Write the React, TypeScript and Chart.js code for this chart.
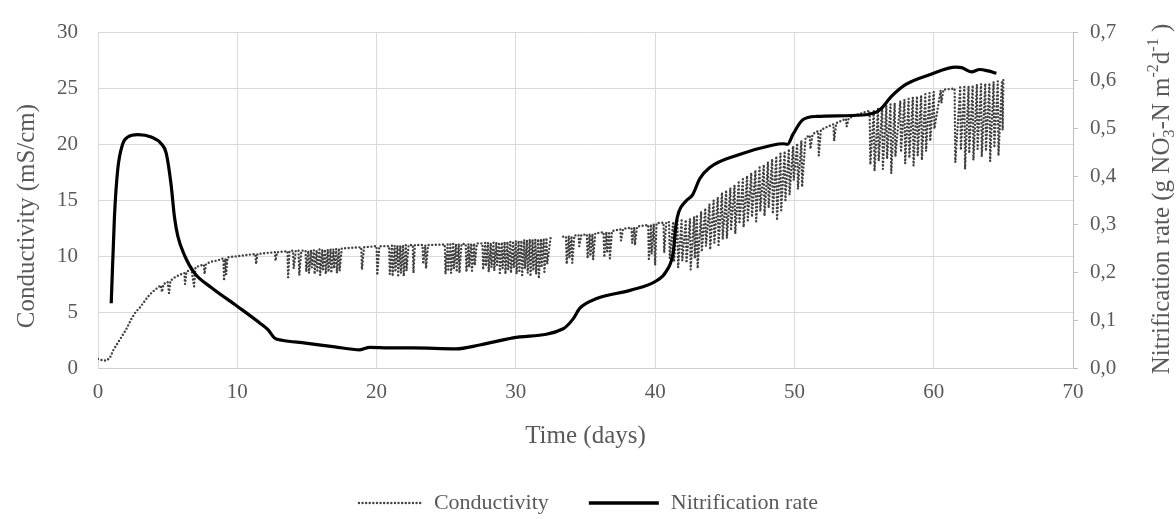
import React, { useEffect, useRef } from 'react';
import { Chart, registerables } from 'chart.js';

Chart.register(...registerables);

const FONT = '"Liberation Serif", "Times New Roman", serif';
const TEXT = '#595959';

// Conductivity (mS/cm) — [day, value]; null marks the gap in logging
const condPhase1: [number, number][] = [
  [0, 0.8], [0.3, 0.7], [0.6, 0.65], [0.85, 0.9], [1.1, 1.6], [1.4, 2.2], [1.7, 2.8], [2.0, 3.4],
  [2.4, 4.4], [2.7, 5.0], [3.0, 5.4], [3.3, 5.9], [3.6, 6.4], [3.9, 6.8], [4.2, 7.1], [4.5, 7.4],
  [4.6, 6.8], [4.7, 7.5], [5.0, 7.7], [5.1, 6.7], [5.2, 7.8], [5.5, 8.1], [5.8, 8.3], [6.2, 8.5],
  [6.25, 7.5], [6.35, 8.6], [6.7, 8.85], [6.9, 7.3], [7.0, 9.0], [7.3, 9.15], [7.6, 9.25], [7.65, 8.4],
  [7.75, 9.3], [8.1, 9.5], [8.5, 9.6], [9.0, 9.8], [9.05, 7.8], [9.15, 9.8], [9.2, 8.4], [9.3, 9.9],
  [10.0, 10.0], [10.6, 10.1], [11.3, 10.2], [11.35, 9.3], [11.45, 10.2], [12.2, 10.3], [12.7, 10.35],
  [12.75, 9.6], [12.85, 10.35], [13.6, 10.45], [13.65, 8.1], [13.75, 10.45],
];
const condPhase2: [number, number][] = [
  [14.0, 10.5], [14.05, 8.9], [14.2, 10.5], [14.4, 10.5], [14.45, 8.3], [14.6, 10.5], [14.9, 10.5],
  [14.95, 8.6], [15.1, 10.5], [15.15, 8.5], [15.3, 10.55], [15.35, 9.0], [15.5, 10.55], [15.55, 8.4],
  [15.7, 10.55], [15.75, 8.7], [15.9, 10.6], [15.95, 8.3], [16.1, 10.6], [16.15, 8.8], [16.3, 10.6],
  [16.35, 8.4], [16.5, 10.6], [16.55, 8.6], [16.7, 10.65], [16.75, 8.5], [16.9, 10.65], [16.95, 8.9],
  [17.1, 10.65], [17.15, 8.5], [17.3, 10.7], [17.35, 8.7], [17.5, 10.7], [18.2, 10.75], [18.9, 10.8],
  [18.95, 8.8], [19.1, 10.8], [20.0, 10.9], [20.05, 8.3], [20.2, 10.9],
];
const condPhase3: [number, number][] = [
  [20.9, 10.9], [20.95, 8.4], [21.1, 10.95], [21.15, 8.2], [21.3, 10.95], [21.35, 8.6], [21.5, 10.95],
  [21.55, 8.3], [21.7, 10.95], [21.75, 8.5], [21.9, 11.0], [21.95, 8.2], [22.1, 11.0], [22.15, 8.7],
  [22.3, 11.0], [22.6, 11.0], [22.65, 8.5], [22.75, 11.0], [23.3, 11.0], [23.35, 9.3], [23.5, 11.0],
  [23.55, 8.9], [23.7, 11.0], [24.9, 11.05], [24.95, 8.4], [25.1, 11.05], [25.15, 8.8], [25.3, 11.05],
  [25.35, 8.5], [25.5, 11.1], [25.55, 8.9], [25.7, 11.1], [25.75, 8.6], [25.9, 11.1], [25.95, 8.5],
  [26.1, 11.1], [26.4, 11.1], [26.45, 8.6], [26.6, 11.1], [26.65, 9.0], [26.8, 11.15], [26.85, 8.7],
  [27.0, 11.15], [27.05, 9.2], [27.2, 11.15], [27.6, 11.15], [27.65, 8.8], [27.8, 11.2], [27.85, 9.1],
  [28.0, 11.2], [28.05, 8.6], [28.2, 11.2], [28.25, 9.0], [28.4, 11.2], [28.45, 8.7], [28.6, 11.25],
  [28.65, 9.2], [28.8, 11.25], [28.85, 8.5], [29.0, 11.25], [29.05, 8.9], [29.2, 11.3], [29.25, 8.4],
  [29.4, 11.3], [29.45, 8.8], [29.6, 11.3], [29.65, 8.5], [29.8, 11.35], [29.85, 9.0], [30.0, 11.35],
  [30.05, 8.4], [30.2, 11.4], [30.25, 8.7], [30.4, 11.4], [30.45, 8.3], [30.6, 11.45], [30.65, 8.9],
  [30.8, 11.45], [30.85, 8.5], [31.0, 11.5], [31.05, 8.2], [31.2, 11.5], [31.25, 8.7], [31.4, 11.5],
  [31.45, 8.4], [31.6, 11.55], [31.65, 8.0], [31.8, 11.55], [31.85, 9.0], [32.0, 11.6], [32.05, 8.6],
  [32.2, 11.65], [32.25, 9.3], [32.5, 11.7],
];
const condGap: [number, number | null][] = [[33.0, null]];
const condPhase4: [number, number][] = [
  [33.4, 11.75], [33.6, 11.75], [33.65, 9.3], [33.8, 11.8], [33.85, 9.8], [34.0, 11.8], [34.05, 9.4],
  [34.2, 11.85], [34.5, 11.9], [34.55, 10.9], [34.7, 11.9], [35.1, 11.95], [35.15, 9.8], [35.3, 12.0],
  [35.35, 10.0], [35.5, 12.0], [35.55, 9.7], [35.7, 12.05], [36.3, 12.15], [36.35, 9.9], [36.5, 12.2],
  [36.55, 10.3], [36.7, 12.2], [36.75, 9.8], [36.9, 12.25], [37.5, 12.4], [37.55, 11.4], [37.7, 12.45],
  [38.3, 12.55], [38.35, 11.2], [38.5, 12.6], [38.55, 11.0], [38.7, 12.65], [39.5, 12.8], [39.55, 9.6],
  [39.7, 12.85], [39.75, 10.2], [39.9, 12.9], [40.0, 9.2], [40.1, 12.95], [40.6, 13.0], [40.65, 10.3],
  [40.8, 13.05],
];
const condPhase5: [number, number][] = [
  [41.0, 13.05], [41.05, 9.8], [41.3, 13.1], [41.35, 9.5], [41.6, 13.15], [41.65, 9.0], [41.9, 13.2],
  [41.95, 9.6], [42.2, 13.25], [42.25, 9.4], [42.5, 13.35], [42.55, 8.8], [42.8, 13.55], [42.85, 9.8],
  [43.0, 13.7], [43.05, 8.9], [43.3, 14.0], [43.35, 10.4], [43.6, 14.3], [43.65, 10.9], [43.9, 14.65],
  [43.95, 10.6], [44.2, 15.0], [44.25, 11.2], [44.5, 15.3], [44.55, 11.0], [44.8, 15.7], [44.85, 11.5],
  [45.1, 15.9], [45.15, 11.6], [45.4, 16.1], [45.45, 12.3], [45.7, 16.35], [45.75, 12.0], [46.0, 16.6],
  [46.05, 12.9], [46.3, 16.9], [46.35, 12.6], [46.6, 17.2], [46.65, 13.2], [46.9, 17.45], [46.95, 13.5],
  [47.2, 17.7], [47.25, 13.1], [47.5, 17.95], [47.55, 14.0], [47.8, 18.2], [47.85, 13.6], [48.1, 18.45],
  [48.15, 14.3], [48.4, 18.7], [48.45, 13.8], [48.7, 18.95], [48.75, 13.2], [49.0, 19.2], [49.05, 14.1],
  [49.3, 19.4], [49.35, 15.0], [49.6, 19.6], [49.65, 15.5], [49.9, 19.85], [49.95, 16.8], [50.2, 20.1],
  [50.25, 16.0], [50.5, 20.35], [50.55, 16.2], [50.8, 20.6], [51.1, 20.8], [51.15, 19.6], [51.3, 20.9],
  [51.7, 21.2], [51.75, 19.0], [51.9, 21.3], [52.4, 21.6], [52.8, 21.8], [52.85, 20.3], [53.0, 21.9],
  [53.7, 22.3], [53.75, 21.6], [53.9, 22.35], [54.5, 22.65], [55.1, 22.9],
];
const condPhase6: [number, number][] = [
  [55.4, 23.0], [55.45, 18.2], [55.7, 23.1], [55.75, 17.6], [56.0, 23.2], [56.05, 18.5], [56.3, 23.35],
  [56.35, 17.8], [56.6, 23.5], [56.65, 18.7], [56.9, 23.6], [56.95, 17.4], [57.2, 23.7], [57.25, 18.9],
  [57.6, 23.9], [57.65, 19.3], [57.9, 24.0], [57.95, 18.3], [58.2, 24.1], [58.25, 18.8], [58.5, 24.2],
  [58.55, 18.1], [58.8, 24.3], [58.85, 19.0], [59.1, 24.4], [59.15, 18.6], [59.4, 24.5], [59.45, 19.4],
  [59.7, 24.6], [59.75, 20.3], [60.0, 24.7], [60.05, 21.4], [60.5, 24.85], [60.55, 23.7], [60.7, 24.9],
  [61.5, 25.0], [61.55, 18.4], [61.9, 25.1], [61.95, 19.5], [62.2, 25.15], [62.25, 17.8], [62.5, 25.2],
  [62.55, 19.2], [62.8, 25.3], [62.85, 18.6], [63.1, 25.35], [63.15, 19.6], [63.4, 25.4], [63.45, 18.9],
  [63.7, 25.45], [63.75, 19.4], [64.0, 25.5], [64.05, 18.5], [64.3, 25.6], [64.35, 19.7], [64.6, 25.65],
  [64.65, 19.0], [64.9, 25.7], [64.95, 21.3], [65.0, 25.8],
];

// Nitrification rate (g NO3–N m-2 d-1)
const nitDays = [
  0.95, 1.18, 1.42, 1.78, 2.14, 2.86, 3.82, 4.54, 4.9, 5.25, 5.49, 5.73, 6.21, 6.93, 8.13, 10.04,
  11.7, 12.2, 12.7, 13.2, 14.9, 17.0, 18.8, 19.5, 20.9, 22.6, 25.7, 27.4, 29.8, 33.4, 34.1, 34.6,
  35.8, 38.2, 40.1, 40.8, 41.3, 41.5, 41.7, 42.2, 42.7, 43.2, 43.9, 46.0, 48.4, 49.2, 49.5, 49.9,
  50.6, 51.6, 54.9, 56.1, 57.0, 58.0, 59.7, 61.6, 62.0, 62.7, 63.3, 63.9, 64.5,
];
const nitValues = [
  0.135, 0.315, 0.415, 0.468, 0.482, 0.487, 0.482, 0.468, 0.448, 0.382, 0.315, 0.275, 0.235, 0.198,
  0.168, 0.128, 0.092, 0.08, 0.062, 0.058, 0.052, 0.044, 0.038, 0.043, 0.042, 0.042, 0.04, 0.048,
  0.063, 0.082, 0.102, 0.125, 0.145, 0.162, 0.182, 0.202, 0.242, 0.3, 0.326, 0.348, 0.362, 0.395,
  0.418, 0.445, 0.465, 0.468, 0.467, 0.488, 0.518, 0.525, 0.528, 0.538, 0.568, 0.592, 0.612, 0.628,
  0.627, 0.618, 0.623, 0.62, 0.615,
];

const seriesNames = ['Conductivity', 'Nitrification rate'];
const leftTitle = 'Conductivity (mS/cm)';
const xTitle = 'Time (days)';
const rightTitleParts: { t: string; k: 'n' | 'sub' | 'sup'; sup?: string }[] = [
  { t: 'Nitrification rate (g NO', k: 'n' },
  { t: '3', k: 'sub', sup: '-' },
  { t: '-N m', k: 'n' },
  { t: '-2', k: 'sup' },
  { t: 'd', k: 'n' },
  { t: '-1', k: 'sup' },
  { t: ' )', k: 'n' },
];

const TITLE_SIZE = 25;
const TICK_SIZE = 21;
const LEGEND_SIZE = 22;

const overlayPlugin = {
  id: 'overlay',
  afterDraw(chart: any) {
    const ctx: CanvasRenderingContext2D = chart.ctx;
    ctx.save();
    ctx.fillStyle = TEXT;
    // left title
    ctx.save();
    ctx.translate(27, 216);
    ctx.rotate(-Math.PI / 2);
    ctx.font = `${TITLE_SIZE}px ${FONT}`;
    ctx.textAlign = 'center';
    ctx.textBaseline = 'middle';
    ctx.fillText(leftTitle, 0, 0);
    ctx.restore();

    // right title with sub/superscripts
    ctx.save();
    ctx.translate(1160, 199);
    ctx.rotate(-Math.PI / 2);
    ctx.textAlign = 'left';
    ctx.textBaseline = 'alphabetic';
    const big = `${TITLE_SIZE}px ${FONT}`;
    const small = `${Math.round(TITLE_SIZE * 0.62)}px ${FONT}`;
    const widths = rightTitleParts.map((p) => {
      ctx.font = p.k === 'n' ? big : small;
      let w = ctx.measureText(p.t).width;
      if (p.sup) w = Math.max(w, ctx.measureText(p.sup).width);
      return w;
    });
    const total = widths.reduce((a, b) => a + b, 0);
    let x = -total / 2;
    const base = TITLE_SIZE * 0.34;
    rightTitleParts.forEach((p, i) => {
      if (p.k === 'n') {
        ctx.font = big;
        ctx.fillText(p.t, x, base);
      } else if (p.k === 'sub') {
        ctx.font = small;
        ctx.fillText(p.t, x, base + TITLE_SIZE * 0.2);
        if (p.sup) ctx.fillText(p.sup, x, base - TITLE_SIZE * 0.42);
      } else {
        ctx.font = small;
        ctx.fillText(p.t, x, base - TITLE_SIZE * 0.42);
      }
      x += widths[i];
    });
    ctx.restore();

    // legend
    ctx.font = `${LEGEND_SIZE}px ${FONT}`;
    ctx.textBaseline = 'middle';
    ctx.textAlign = 'left';
    const sample1 = 64, sample2 = 70, gapText = 12, gapItem = 40;
    const w1 = ctx.measureText(seriesNames[0]).width;
    const w2 = ctx.measureText(seriesNames[1]).width;
    const legendW = sample1 + gapText + w1 + gapItem + sample2 + gapText + w2;
    let lx = 588 - legendW / 2;
    const ly = 503;
    ctx.strokeStyle = '#404040';
    ctx.lineWidth = 2.4;
    ctx.lineCap = 'round';
    ctx.setLineDash([0, 3.6]);
    ctx.beginPath();
    ctx.moveTo(lx + 1, ly);
    ctx.lineTo(lx + sample1, ly);
    ctx.stroke();
    lx += sample1 + gapText;
    ctx.fillText(seriesNames[0], lx, ly);
    lx += w1 + gapItem;
    ctx.setLineDash([]);
    ctx.lineCap = 'butt';
    ctx.strokeStyle = '#000000';
    ctx.lineWidth = 3.5;
    ctx.beginPath();
    ctx.moveTo(lx, ly);
    ctx.lineTo(lx + sample2, ly);
    ctx.stroke();
    lx += sample2 + gapText;
    ctx.fillText(seriesNames[1], lx, ly);
    ctx.restore();
  },
};

export default function App() {
  const ref = useRef<HTMLCanvasElement>(null);
  useEffect(() => {
    document.body.style.margin = '0';
    const condAll = [
      ...condPhase1, ...condPhase2, ...condPhase3, ...condGap, ...condPhase4, ...condPhase5, ...condPhase6,
    ].map(([x, y]) => ({ x, y }));
    const nitAll = nitDays.map((d, i) => ({ x: d, y: nitValues[i] }));
    const tickFont = { family: FONT, size: TICK_SIZE };
    const chart = new Chart(ref.current!, {
      type: 'line',
      data: {
        datasets: [
          {
            label: seriesNames[1],
            data: nitAll as any,
            yAxisID: 'y1',
            borderColor: '#000000',
            borderWidth: 3.2,
            pointRadius: 0,
            cubicInterpolationMode: 'monotone',
            fill: false,
            order: 0,
          },
          {
            label: seriesNames[0],
            data: condAll as any,
            yAxisID: 'y',
            borderColor: '#404040',
            borderWidth: 2.4,
            borderDash: [0, 3.6],
            borderCapStyle: 'round',
            pointRadius: 0,
            tension: 0,
            spanGaps: false,
            fill: false,
            order: 1,
          },
        ],
      },
      options: {
        animation: false,
        responsive: true,
        maintainAspectRatio: false,
        layout: { padding: { top: 17, left: 0, right: 0, bottom: 0 } },
        plugins: { legend: { display: false }, tooltip: { enabled: false } },
        scales: {
          x: {
            type: 'linear',
            min: 0,
            max: 70,
            ticks: { stepSize: 10, padding: 12, color: TEXT, font: tickFont },
            grid: { color: '#d9d9d9', drawTicks: false, lineWidth: 1 },
            border: { display: true, color: '#cfcfcf', width: 1 },
            title: {
              display: true,
              text: xTitle,
              color: TEXT,
              font: { family: FONT, size: TITLE_SIZE },
              padding: { top: 0, bottom: 68 },
            },
            afterFit: (s: any) => {
              s.height = 151;
            },
          },
          y: {
            type: 'linear',
            position: 'left',
            min: 0,
            max: 30,
            ticks: { stepSize: 5, padding: 20, color: TEXT, font: tickFont },
            grid: { color: '#d9d9d9', drawTicks: false, lineWidth: 1 },
            border: { display: false },
            afterFit: (s: any) => {
              s.width = 98;
            },
          },
          y1: {
            type: 'linear',
            position: 'right',
            min: 0,
            max: 0.7,
            ticks: {
              stepSize: 0.1,
              padding: 12,
              color: TEXT,
              font: tickFont,
              callback: (v: any) => Number(v).toFixed(1).replace('.', ','),
            },
            grid: { drawOnChartArea: false, drawTicks: true, tickLength: 5, color: '#bfbfbf' },
            border: { display: true, color: '#bfbfbf', width: 1 },
            afterFit: (s: any) => {
              s.width = 103;
            },
          },
        },
      } as any,
      plugins: [overlayPlugin],
    });
    return () => chart.destroy();
  }, []);
  return (
    <div style={{ width: 1176, height: 519, position: 'relative' }}>
      <canvas ref={ref} />
    </div>
  );
}
